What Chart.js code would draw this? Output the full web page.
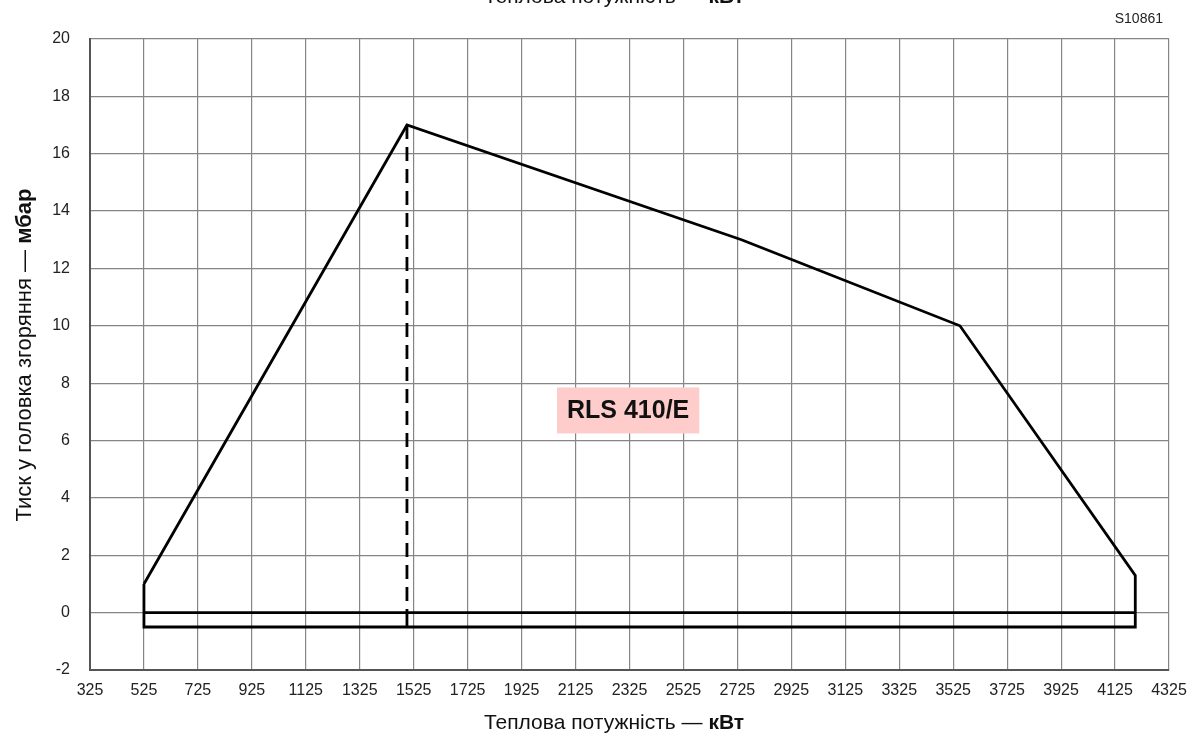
<!DOCTYPE html>
<html>
<head>
<meta charset="utf-8">
<script src="https://cdn.jsdelivr.net/npm/chart.js@4"></script>
<style>
  html,body{margin:0;padding:0;background:#fff;}
  #wrap{width:1187px;height:733px;position:relative;}
</style>
</head>
<body>
<div id="wrap"><canvas id="c"></canvas></div>
<script>
/* ---- дані ---- */
const xTicks = [325, 4325, 200];          // min, max, крок
const yTicks = [-2, 20, 2];

// контур робочого поля RLS 410/E
const outlineX = [525, 1500, 2740, 3550, 4200, 4200, 525, 525];
const outlineY = [1, 17, 13, 10, 1.3, -0.5, -0.5, 1];

// лінія 0 мбар всередині поля
const zeroX = [525, 4200];
const zeroY = [0, 0];

// пунктир від піку вниз
const dashX = [1500, 1500];
const dashY = [17, 0];
const stubX = [1500, 1500];
const stubY = [0, -0.5];

const modelName = 'RLS 410/E';
const modelAt = [2320, 7.05];
const axisX = ['Теплова потужність — ', 'кВт'];
const axisY = ['Тиск у головка згоряння — ', 'мбар'];
const docCode = 'S10861';

const FONT = '"Liberation Sans", Arial, sans-serif';
const pts = (xs, ys) => xs.map((x, i) => ({x, y: ys[i]}));

function line(data, dash){
  return {data, showLine:true, borderColor:'#000', borderWidth:2.8, pointRadius:0,
    borderDash: dash || [], borderJoinStyle:'miter', borderCapStyle:'butt', tension:0, fill:false};
}

/* ---- підписи, що малюються вручну ---- */
function twoPart(ctx, parts, size, cx, cy){
  ctx.font = `${size}px ${FONT}`;
  const w1 = ctx.measureText(parts[0]).width;
  ctx.font = `bold ${size}px ${FONT}`;
  const w2 = ctx.measureText(parts[1]).width;
  let x = cx - (w1 + w2) / 2;
  ctx.textAlign = 'left'; ctx.textBaseline = 'alphabetic';
  ctx.font = `${size}px ${FONT}`; ctx.fillText(parts[0], x, cy);
  ctx.font = `bold ${size}px ${FONT}`; ctx.fillText(parts[1], x + w1, cy);
}

const decor = {
  id:'decor',
  afterDatasetsDraw(chart){
    const {ctx, scales:{x, y}} = chart;
    ctx.save();
    // табличка з назвою моделі
    const px = x.getPixelForValue(modelAt[0]), py = y.getPixelForValue(modelAt[1]);
    ctx.font = `bold 25px ${FONT}`;
    const tw = ctx.measureText(modelName).width;
    ctx.fillStyle = '#ffcccc';
    ctx.fillRect(px - tw/2 - 10, py - 23, tw + 20, 46);
    ctx.fillStyle = '#111';
    ctx.textAlign = 'center'; ctx.textBaseline = 'middle';
    ctx.fillText(modelName, px, py + 1);
    ctx.restore();
  },
  afterDraw(chart){
    const {ctx} = chart;
    ctx.save();
    ctx.fillStyle = '#111';
    twoPart(ctx, axisX, 21, 614, 729);   // внизу
    twoPart(ctx, axisX, 21, 614, 3);     // обрізаний зверху
    ctx.translate(31, 355); ctx.rotate(-Math.PI/2);
    twoPart(ctx, axisY, 22, 0, 0);
    ctx.restore();
    ctx.save();
    ctx.fillStyle = '#222';
    ctx.font = `14px ${FONT}`; ctx.textAlign = 'right';
    ctx.fillText(docCode, 1163, 23);
    ctx.restore();
  }
};

new Chart(document.getElementById('c'), {
  type:'scatter',
  data:{datasets:[
    line(pts(outlineX, outlineY)),
    line(pts(zeroX, zeroY)),
    line(pts(dashX, dashY), [14, 8]),
    line(pts(stubX, stubY))
  ]},
  options:{
    responsive:true, maintainAspectRatio:false, animation:false,
    layout:{padding:{left:0, top:39, right:18, bottom:0}},
    plugins:{legend:{display:false}, tooltip:{enabled:false}},
    scales:{
      x:{type:'linear', min:xTicks[0], max:xTicks[1],
        ticks:{stepSize:xTicks[2], padding:11, color:'#222', font:{family:FONT, size:16}, maxRotation:0, autoSkip:false,
          callback:v => String(v)},
        grid:{color:'#858585', lineWidth:1.2, drawTicks:false},
        border:{color:'#555', width:2},
        afterFit(s){ s.height = 63; s.paddingLeft = 0; s.paddingRight = 0; }
      },
      y:{type:'linear', min:yTicks[0], max:yTicks[1],
        ticks:{stepSize:yTicks[2], padding:20, color:'#222', font:{family:FONT, size:16}},
        grid:{color:'#858585', lineWidth:1.2, drawTicks:false},
        border:{color:'#555', width:2},
        afterFit(s){ s.width = 90; s.paddingTop = 0; s.paddingBottom = 0; }
      }
    }
  },
  plugins:[decor]
});
</script>
</body>
</html>
